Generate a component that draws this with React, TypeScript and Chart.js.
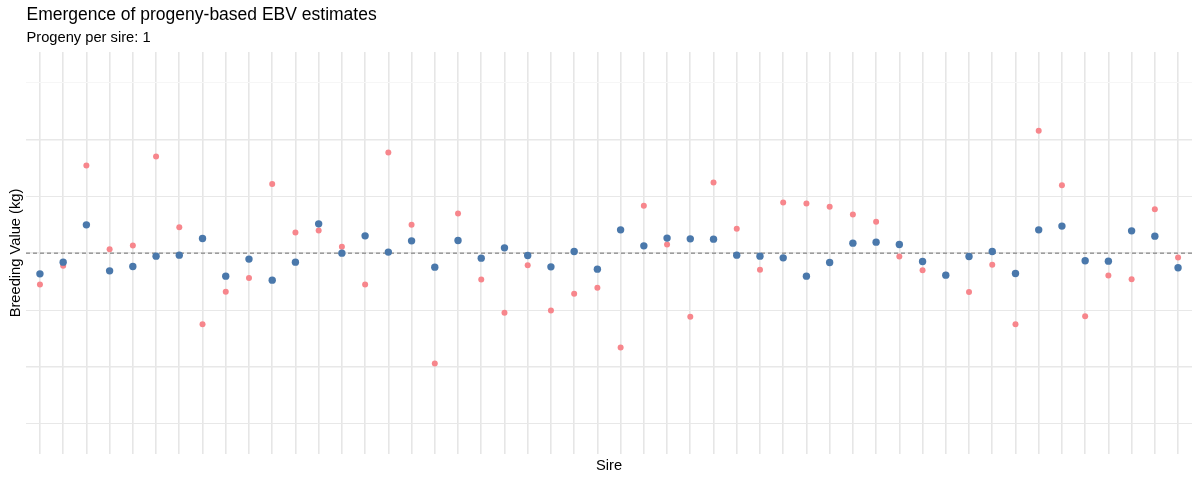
import React, { useEffect, useRef } from "react";
import { Chart, registerables } from "chart.js";

Chart.register(...registerables);

const sires: number[] = Array.from({ length: 50 }, (_, i) => i);

const trueBV: number[] = [
  -5.52, -2.23, 15.4, 0.7, 1.34, 16.98, 4.57, -12.48, -6.8, -4.39,
  12.13, 3.62, 3.97, 1.11, -5.52, 17.68, 4.97, -19.4, 6.96, -4.64,
  -10.49, -2.11, -10.09, -7.15, -6.1, -16.59, 8.31, 1.51, -11.2, 12.41,
  4.27, -2.93, 8.89, 8.72, 8.14, 6.78, 5.5, -0.6, -2.99, -3.8,
  -6.85, -2.06, -12.48, 21.49, 11.95, -11.07, -3.94, -4.57, 7.73, -0.77,
];

const ebv: number[] = [
  -3.64, -1.58, 4.97, -3.11, -2.36, -0.53, -0.35, 2.57, -4.04, -1.05,
  -4.75, -1.58, 5.15, 0.0, 3.04, 0.18, 2.16, -2.46, 2.21, -0.88,
  0.93, -0.42, -2.41, 0.28, -2.81, 4.09, 1.28, 2.64, 2.51, 2.46,
  -0.35, -0.53, -0.83, -4.04, -1.65, 1.76, 1.93, 1.51, -1.48, -3.87,
  -0.6, 0.28, -3.59, 4.09, 4.75, -1.35, -1.41, 3.92, 2.99, -2.58,
];

const yTicks: number[] = [-30, -20, -10, 0, 10, 20, 30];
const majorY: number[] = [-20, 0, 20];

const titleText = "Emergence of progeny-based EBV estimates";
const subtitleText = "Progeny per sire: 1";
const xTitle = "Sire";
const yTitle = "Breeding Value (kg)";

const FONT = '"Liberation Sans", Arial, sans-serif';

const textPlugin = {
  id: "ggText",
  afterDraw(chart: any) {
    const { ctx, chartArea } = chart;
    ctx.save();
    ctx.fillStyle = "#000000";
    ctx.textBaseline = "alphabetic";
    ctx.textAlign = "left";
    ctx.font = `17.5px ${FONT}`;
    ctx.fillText(titleText, chartArea.left + 0.5, 20);
    ctx.font = `14.7px ${FONT}`;
    ctx.fillText(subtitleText, chartArea.left + 0.5, 41.7);
    ctx.textAlign = "center";
    ctx.fillText(xTitle, (chartArea.left + chartArea.right) / 2, 469.5);
    ctx.translate(19.5, (chartArea.top + chartArea.bottom) / 2);
    ctx.rotate(-Math.PI / 2);
    ctx.fillText(yTitle, 0, 0);
    ctx.restore();
  },
};

export default function App() {
  const ref = useRef<HTMLCanvasElement | null>(null);

  useEffect(() => {
    if (!ref.current) return;
    const chart = new Chart(ref.current, {
      type: "scatter",
      data: {
        datasets: [
          {
            type: "line",
            label: "zero",
            data: [
              { x: -0.6, y: 0 },
              { x: 49.6, y: 0 },
            ],
            borderColor: "#6f6f6f",
            borderWidth: 1,
            borderDash: [4, 3],
            pointRadius: 0,
            order: 3,
          } as any,
          {
            label: "True BV",
            data: sires.map((s, i) => ({ x: s, y: trueBV[i] })),
            backgroundColor: "#f7868c",
            borderWidth: 0,
            pointRadius: 3,
            order: 2,
          },
          {
            label: "EBV",
            data: sires.map((s, i) => ({ x: s, y: ebv[i] })),
            backgroundColor: "#4a78ab",
            borderWidth: 0,
            pointRadius: 3.7,
            order: 1,
          },
        ],
      },
      options: {
        animation: false,
        responsive: false,
        maintainAspectRatio: false,
        layout: { padding: { left: 26, right: 8, top: 52, bottom: 26 } },
        plugins: {
          legend: { display: false },
          tooltip: { enabled: false },
          title: { display: false },
        },
        scales: {
          x: {
            type: "linear",
            min: -0.6,
            max: 49.6,
            afterBuildTicks: (scale: any) => {
              scale.ticks = sires.map((v) => ({ value: v }));
            },
            ticks: { display: false },
            border: { display: false },
            grid: { color: "#e6e6e6", lineWidth: 1.6, drawTicks: false },
          },
          y: {
            type: "linear",
            min: -35.3,
            max: 35.35,
            afterBuildTicks: (scale: any) => {
              scale.ticks = yTicks.map((v) => ({ value: v }));
            },
            ticks: { display: false },
            border: { display: false },
            grid: {
              drawTicks: false,
              color: (c: any) => (c.tick && c.tick.value === 30 ? "#f6f6f6" : "#e8e8e8"),
              lineWidth: (c: any) => (c.tick && majorY.includes(c.tick.value) ? 1.4 : 1),
            },
          },
        },
      },
      plugins: [textPlugin],
    });
    return () => chart.destroy();
  }, []);

  return (
    <div style={{ position: "absolute", left: 0, top: 0, width: 1200, height: 480, background: "#ffffff" }}>
      <canvas ref={ref} width={1200} height={480} style={{ width: 1200, height: 480 }} />
    </div>
  );
}
